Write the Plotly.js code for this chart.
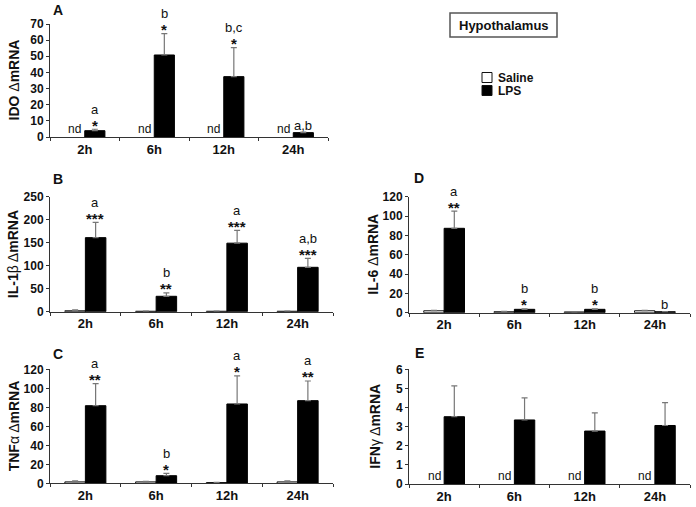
<!DOCTYPE html>
<html><head><meta charset="utf-8">
<script src="https://cdn.plot.ly/plotly-3.0.1.min.js"></script>
<style>html,body{margin:0;padding:0;background:#fff}#chart{width:696px;height:507px}</style>
</head><body><div id="chart"></div>
<script>
const W = 696, H = 507;
const times = ['2h', '6h', '12h', '24h'];

// A: IDO
const idoSal = [null, null, null, null];
const idoSalErr = [0, 0, 0, 0];
const idoLps = [3.9, 50.8, 37.4, 2.7];
const idoLpsErr = [0.9, 13.2, 18.0, 0.4];
const idoLetters = ['a', 'b', 'b,c', 'a,b'];
const idoStars = ['*', '*', '*', ''];

// B: IL-1beta
const il1bSal = [2, 1, 1, 1];
const il1bSalErr = [2, 0.5, 0.5, 0.5];
const il1bLps = [161, 33.5, 149, 96.5];
const il1bLpsErr = [33, 7.5, 28, 19.5];
const il1bLetters = ['a', 'b', 'a', 'a,b'];
const il1bStars = ['***', '**', '***', '***'];

// C: TNF-alpha
const tnfSal = [1.5, 1.5, 0.8, 1.5];
const tnfSalErr = [1, 0.5, 0.3, 1];
const tnfLps = [81.7, 8, 83.5, 87];
const tnfLpsErr = [23.3, 2.5, 29.5, 20.7];
const tnfLetters = ['a', 'b', 'a', 'a'];
const tnfStars = ['**', '*', '*', '**'];

// D: IL-6
const il6Sal = [2, 1, 0.8, 2];
const il6SalErr = [0.5, 0.5, 0.2, 0.5];
const il6Lps = [87.3, 3.5, 3.5, 1];
const il6LpsErr = [17.7, 0.5, 0.5, 0.2];
const il6Letters = ['a', 'b', 'b', 'b'];
const il6Stars = ['**', '*', '*', ''];

// E: IFN-gamma
const ifngSal = [null, null, null, null];
const ifngSalErr = [0, 0, 0, 0];
const ifngLps = [3.52, 3.35, 2.77, 3.06];
const ifngLpsErr = [1.61, 1.15, 0.95, 1.2];
const ifngLetters = ['', '', '', ''];
const ifngStars = ['', '', '', ''];

const panels = [
  {id: '', letter: 'A', title: '<b>IDO </b>Δ<b>mRNA</b>', sal: idoSal, salErr: idoSalErr, lps: idoLps, lpsErr: idoLpsErr, letters: idoLetters, stars: idoStars,
   xpx: [50, 328], ypx: [24, 137], range: [0, 70], dtick: 10, lx: 58, ly: 10, tx: 13},
  {id: '2', letter: 'B', title: '<b>IL-1</b>β Δ<b>mRNA</b>', sal: il1bSal, salErr: il1bSalErr, lps: il1bLps, lpsErr: il1bLpsErr, letters: il1bLetters, stars: il1bStars,
   xpx: [50, 333], ypx: [196.7, 311.7], range: [0, 250], dtick: 50, lx: 58, ly: 179, tx: 13},
  {id: '3', letter: 'C', title: '<b>TNF</b>α Δ<b>mRNA</b>', sal: tnfSal, salErr: tnfSalErr, lps: tnfLps, lpsErr: tnfLpsErr, letters: tnfLetters, stars: tnfStars,
   xpx: [50, 333], ypx: [369.3, 483.3], range: [0, 120], dtick: 20, lx: 58, ly: 354, tx: 14},
  {id: '4', letter: 'D', title: '<b>IL-6 </b>Δ<b>mRNA</b>', sal: il6Sal, salErr: il6SalErr, lps: il6Lps, lpsErr: il6LpsErr, letters: il6Letters, stars: il6Stars,
   xpx: [409, 690], ypx: [196.7, 312.7], range: [0, 120], dtick: 20, lx: 419, ly: 178, tx: 373},
  {id: '5', letter: 'E', title: '<b>IFN</b>γ Δ<b>mRNA</b>', sal: ifngSal, salErr: ifngSalErr, lps: ifngLps, lpsErr: ifngLpsErr, letters: ifngLetters, stars: ifngStars,
   xpx: [409, 690], ypx: [369.3, 484], range: [0, 6], dtick: 1, lx: 419, ly: 353, tx: 375}
];

const FONT = 'Liberation Sans, Arial, sans-serif';
const px2x = p => p / W;
const px2y = p => 1 - p / H;

const data = [];
const annotations = [];
const shapes = [];
const layout = {
  width: W, height: H,
  margin: {l: 0, r: 0, t: 0, b: 0},
  paper_bgcolor: '#fff', plot_bgcolor: '#fff',
  barmode: 'group', bargap: 0.42, bargroupgap: 0,
  showlegend: false,
  font: {family: FONT, color: '#111'}
};

panels.forEach(p => {
  const xa = 'x' + p.id, ya = 'y' + p.id;
  data.push({
    type: 'bar', x: times, y: p.sal, xaxis: xa, yaxis: ya, name: 'Saline',
    marker: {color: '#fff', line: {color: '#111', width: 1}},
    error_y: {type: 'data', array: p.salErr, arrayminus: p.sal.map(() => 0), symmetric: false, color: '#777', thickness: 1.2, width: 3, visible: true}
  });
  data.push({
    type: 'bar', x: times, y: p.lps, xaxis: xa, yaxis: ya, name: 'LPS',
    marker: {color: '#000', line: {color: '#000', width: 1}},
    error_y: {type: 'data', array: p.lpsErr, arrayminus: p.lps.map(() => 0), symmetric: false, color: '#777', thickness: 1.2, width: 3, visible: true}
  });
  layout['xaxis' + p.id] = {
    domain: [px2x(p.xpx[0]), px2x(p.xpx[1])], anchor: ya,
    type: 'category', categoryorder: 'array', categoryarray: times,
    showline: true, linecolor: '#333', linewidth: 1,
    ticks: 'outside', tickson: 'boundaries', ticklen: 3, tickcolor: '#333',
    tickfont: {family: FONT, size: 13, color: '#111', weight: 'bold'},
    showgrid: false, zeroline: false, fixedrange: true
  };
  layout['yaxis' + p.id] = {
    domain: [px2y(p.ypx[1]), px2y(p.ypx[0])], anchor: xa,
    range: p.range, dtick: p.dtick, tick0: 0,
    showline: true, linecolor: '#333', linewidth: 1,
    ticks: 'outside', ticklen: 3, tickcolor: '#333',
    tickfont: {family: FONT, size: 12, color: '#111', weight: 'bold'},
    showgrid: false, zeroline: false, fixedrange: true
  };
  annotations.push({xref: 'paper', yref: 'paper', x: px2x(p.lx), y: px2y(p.ly), text: '<b>' + p.letter + '</b>',
    showarrow: false, xanchor: 'center', yanchor: 'middle', font: {family: FONT, size: 14, color: '#111'}});
  annotations.push({xref: 'paper', yref: 'paper', x: px2x(p.tx), y: px2y((p.ypx[0] + p.ypx[1]) / 2), text: p.title,
    showarrow: false, textangle: -90, xanchor: 'center', yanchor: 'middle', font: {family: FONT, size: 14, color: '#111'}});
  times.forEach((t, i) => {
    if (p.sal[i] === null) {
      annotations.push({xref: xa, yref: ya, x: t, y: 0, xshift: -10, yshift: -1, text: 'nd', showarrow: false,
        xanchor: 'center', yanchor: 'bottom', font: {family: FONT, size: 12, color: '#111'}});
    }
    const top = p.lps[i] + p.lpsErr[i];
    let shift = 7;
    if (p.stars[i]) {
      annotations.push({xref: xa, yref: ya, x: t, y: top, xshift: 10, yshift: 4, text: '<b>' + p.stars[i] + '</b>', showarrow: false,
        xanchor: 'center', yanchor: 'middle', font: {family: FONT, size: 15, color: '#111'}});
      shift = 20;
    }
    if (p.letters[i]) {
      annotations.push({xref: xa, yref: ya, x: t, y: top, xshift: 10, yshift: shift, text: p.letters[i], showarrow: false,
        xanchor: 'center', yanchor: 'middle', font: {family: FONT, size: 13, color: '#111'}});
    }
  });
});

shapes.push({type: 'rect', xref: 'paper', yref: 'paper', x0: px2x(450), x1: px2x(557), y0: px2y(37), y1: px2y(13),
  line: {color: '#555', width: 1.5}, fillcolor: 'rgba(0,0,0,0)'});
annotations.push({xref: 'paper', yref: 'paper', x: px2x(503.5), y: px2y(25.5), text: '<b>Hypothalamus</b>', showarrow: false,
  xanchor: 'center', yanchor: 'middle', font: {family: FONT, size: 13, color: '#111'}});
const legendNames = ['Saline', 'LPS'];
const legendFills = ['#fff', '#000'];
legendNames.forEach((n, i) => {
  const yc = 77.5 + i * 13;
  shapes.push({type: 'rect', xref: 'paper', yref: 'paper', x0: px2x(482), x1: px2x(492), y0: px2y(yc + 5), y1: px2y(yc - 5),
    line: {color: '#111', width: 1}, fillcolor: legendFills[i]});
  annotations.push({xref: 'paper', yref: 'paper', x: px2x(496), y: px2y(yc), text: '<b>' + n + '</b>', showarrow: false,
    xanchor: 'left', yanchor: 'middle', font: {family: FONT, size: 12, color: '#111'}});
});

layout.annotations = annotations;
layout.shapes = shapes;
Plotly.newPlot('chart', data, layout, {staticPlot: true, displayModeBar: false});
</script>
</body></html>
